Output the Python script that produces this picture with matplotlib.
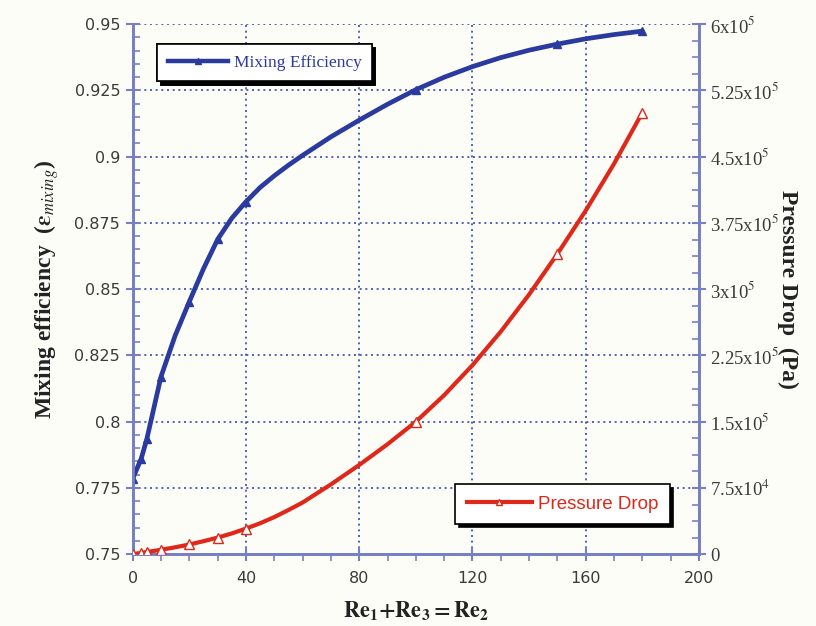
import matplotlib
matplotlib.use("Agg")
import matplotlib.pyplot as plt
from matplotlib.ticker import MultipleLocator, FixedLocator, FixedFormatter
from matplotlib.lines import Line2D

# ---------------- data ----------------
re_x = [0, 3, 5, 10, 15, 20, 25, 30, 35, 40, 45, 50, 55, 60, 70, 80, 90, 100,
        110, 120, 130, 140, 150, 160, 170, 180]
mixing_eff = [0.7785, 0.786, 0.7935, 0.817, 0.8325, 0.8453, 0.8577, 0.8688, 0.8768, 0.883,
              0.8884, 0.8928, 0.8968, 0.9005, 0.9075, 0.9138, 0.9198, 0.9253,
              0.9300, 0.9340, 0.9374, 0.9402, 0.9425, 0.9445, 0.9461, 0.9474]
pressure_drop = [0, 1500, 2500, 5000, 7800, 11000, 14700, 18800, 23500, 29000,
                 35000, 42000, 50000, 58500, 79000, 101000, 124500, 150000,
                 180000, 214000, 252000, 294000, 340000, 389000, 442000, 500000]
marker_x = [0, 3, 5, 10, 20, 30, 40, 100, 150, 180]

x_ticks = [0, 40, 80, 120, 160, 200]
left_ticks = [0.75, 0.775, 0.8, 0.825, 0.85, 0.875, 0.9, 0.925, 0.95]
left_labels = ["0.75", "0.775", "0.8", "0.825", "0.85", "0.875", "0.9", "0.925", "0.95"]
right_ticks = [0, 75000, 150000, 225000, 300000, 375000, 450000, 525000, 600000]
right_labels = ["0", r"7.5x10$^4$", r"1.5x10$^5$", r"2.25x10$^5$", r"3x10$^5$",
                r"3.75x10$^5$", r"4.5x10$^5$", r"5.25x10$^5$", r"6x10$^5$"]

# ---------------- style ----------------
BG = "#fdfdf8"
BLUE = "#2a3a9e"
RED = "#e0281a"
AXC = "#7880c4"
GRID = "#3a4aac"
TICKC = "#3a3a3a"

plt.rcParams["mathtext.fontset"] = "stix"

fig = plt.figure(figsize=(8.16, 6.26), dpi=100, facecolor=BG)
ax = fig.add_axes([0.1626, 0.1147, 0.6940, 0.8466])
ax.set_facecolor(BG)
ax2 = ax.twinx()

mk_idx = [re_x.index(v) for v in marker_x]

ax.plot(re_x, mixing_eff, color=BLUE, lw=3.4, marker="^", markersize=6,
        markevery=mk_idx, markerfacecolor=BLUE, markeredgecolor=BLUE, zorder=3,
        solid_joinstyle="round", solid_capstyle="round")
ax2.plot(re_x, pressure_drop, color=RED, lw=3.0, marker="^", markersize=6.5,
         markevery=mk_idx, markerfacecolor="white", markeredgecolor=RED,
         markeredgewidth=1.0, zorder=3, solid_joinstyle="round", solid_capstyle="round")

ax.set_xlim(0, 200)
ax.set_ylim(0.75, 0.95)
ax2.set_ylim(0, 600000)

ax.xaxis.set_major_locator(FixedLocator(x_ticks))
ax.xaxis.set_minor_locator(MultipleLocator(10))
ax.yaxis.set_major_locator(FixedLocator(left_ticks))
ax.yaxis.set_major_formatter(FixedFormatter(left_labels))
ax.yaxis.set_minor_locator(MultipleLocator(0.005))
ax2.yaxis.set_major_locator(FixedLocator(right_ticks))
ax2.yaxis.set_major_formatter(FixedFormatter(right_labels))
ax2.yaxis.set_minor_locator(MultipleLocator(18750))

ax.grid(True, which="major", color=GRID, linestyle=(0, (1.2, 2.2)), lw=1.2)

for a in (ax, ax2):
    a.spines["top"].set_visible(False)
    for s in ("left", "right", "bottom"):
        a.spines[s].set_color(AXC)
        a.spines[s].set_linewidth(2.0)

ax.tick_params(axis="x", which="major", direction="inout", length=10, width=1.5,
               color=AXC, labelsize=11.5, labelcolor=TICKC, pad=7)
ax.tick_params(axis="x", which="minor", direction="out", length=5, width=1.2, color=AXC)
ax.tick_params(axis="y", which="major", direction="inout", length=10, width=1.5,
               color=AXC, labelsize=11.5, labelcolor=TICKC, pad=4)
ax.tick_params(axis="y", which="minor", direction="in", length=5, width=1.2, color=AXC)
ax2.tick_params(axis="y", which="major", direction="inout", length=10, width=1.5,
                color=AXC, labelsize=13.5, labelcolor=TICKC, pad=3)
ax2.tick_params(axis="y", which="minor", direction="in", length=5, width=1.2, color=AXC)

for lab in ax.get_xticklabels() + ax.get_yticklabels():
    lab.set_family("DejaVu Sans")
for lab in ax2.get_yticklabels():
    lab.set_family("Liberation Serif")

ax.set_xlabel(r"$\mathbf{Re_1{+}Re_3{=}Re_2}$", fontsize=16, labelpad=10, color="#222222")
ax.set_ylabel(r"Mixing efficiency  ($\mathbf{\varepsilon}_{mixing}$)", fontsize=17,
              fontweight="bold", family="Liberation Serif", labelpad=10, color="#222222")
ax2.set_ylabel("Pressure Drop  (Pa)", fontsize=17, fontweight="bold",
               family="Liberation Serif", rotation=270, labelpad=14, color="#222222")

# legends
h1 = Line2D([], [], color=BLUE, lw=3.2, marker="^", markersize=5, markerfacecolor=BLUE)
leg1 = ax.legend([h1], ["Mixing Efficiency"], loc="upper left",
                 bbox_to_anchor=(0.0434, 0.9626), borderaxespad=0, frameon=True,
                 fancybox=False, shadow={"color": "black", "alpha": 1.0, "ox": 2.5, "oy": -2.5},
                 handlelength=3.5, handletextpad=0.3, borderpad=0.6,
                 prop={"family": "Liberation Serif", "size": 12.5})
leg1.get_frame().set_edgecolor("black")
leg1.get_frame().set_linewidth(1.2)
leg1.get_frame().set_facecolor("white")
leg1.get_texts()[0].set_color(BLUE)
ax.add_artist(leg1)

h2 = Line2D([], [], color=RED, lw=3.0, marker="^", markersize=5,
            markerfacecolor="white", markeredgecolor=RED)
leg2 = ax2.legend([h2], ["Pressure Drop"], loc="lower right",
                  bbox_to_anchor=(0.948, 0.057), borderaxespad=0, frameon=True,
                  fancybox=False, shadow={"color": "black", "alpha": 1.0, "ox": 2.5, "oy": -2.5},
                  handlelength=3.5, handletextpad=0.3, borderpad=0.6,
                  prop={"family": "Liberation Sans", "size": 13.5})
leg2.get_frame().set_edgecolor("black")
leg2.get_frame().set_linewidth(1.2)
leg2.get_frame().set_facecolor("white")
leg2.get_texts()[0].set_color(RED)

fig.savefig("out.png", dpi=100, facecolor=BG)
